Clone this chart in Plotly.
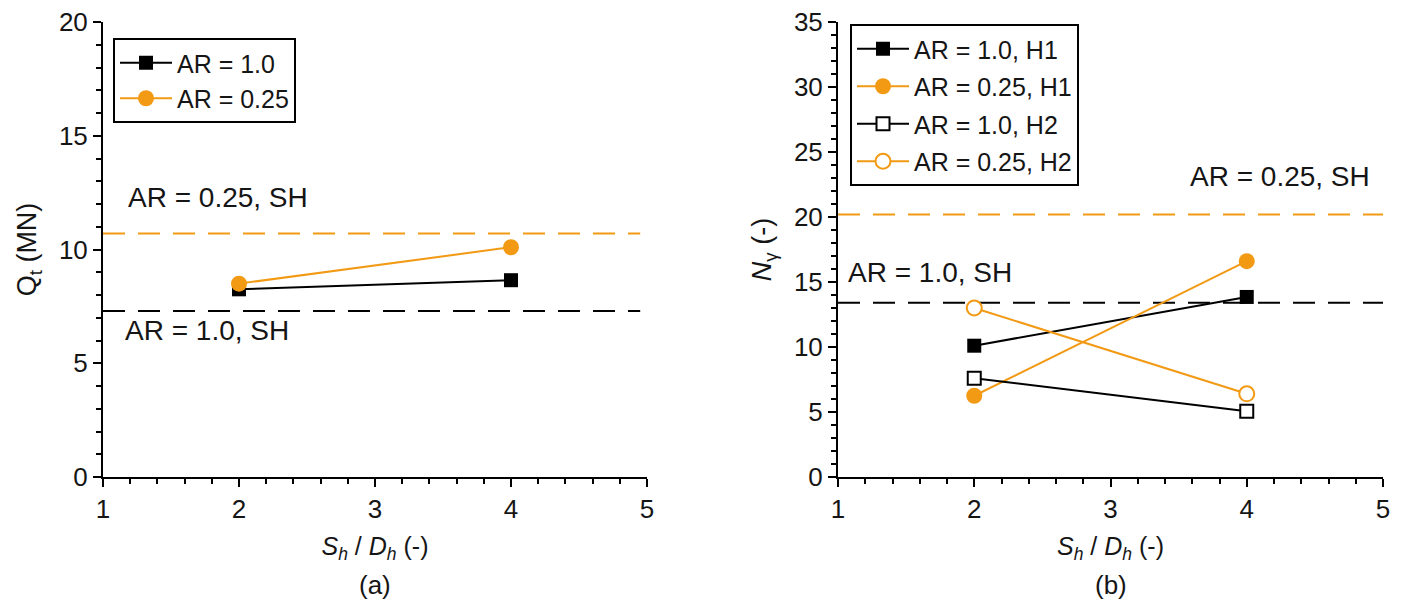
import plotly.graph_objects as go

# ---- data ----
x_ratio = [2, 4]
# panel (a): Qt (MN)
qt_ar100 = [8.25, 8.65]
qt_ar025 = [8.5, 10.1]
qt_sh_ar025 = 10.7
qt_sh_ar100 = 7.3
# panel (b): N_gamma (-)
ng_ar100_h1 = [10.1, 13.85]
ng_ar025_h1 = [6.25, 16.6]
ng_ar100_h2 = [7.6, 5.05]
ng_ar025_h2 = [13.0, 6.4]
ng_sh_ar025 = 20.2
ng_sh_ar100 = 13.4
sh_x_a = [1, 4.95]
sh_x_b = [1, 5]

ORANGE = "#F29A14"
BLACK = "#000000"
FONT = "Liberation Sans, Arial, sans-serif"
TXT = "#151515"

W, H = 1404, 609
ML, MR, MT, MB = 103, 21, 22, 132
PW = W - ML - MR

fig = go.Figure()

# reference lines (dashed)
dash = "22px,13px"
fig.add_trace(go.Scatter(x=sh_x_a, y=[qt_sh_ar025]*2, mode="lines", showlegend=False, hoverinfo="skip",
                         line=dict(color=ORANGE, width=2, dash=dash), xaxis="x", yaxis="y"))
fig.add_trace(go.Scatter(x=sh_x_a, y=[qt_sh_ar100]*2, mode="lines", showlegend=False, hoverinfo="skip",
                         line=dict(color=BLACK, width=2, dash=dash), xaxis="x", yaxis="y"))
fig.add_trace(go.Scatter(x=sh_x_b, y=[ng_sh_ar025]*2, mode="lines", showlegend=False, hoverinfo="skip",
                         line=dict(color=ORANGE, width=2, dash=dash), xaxis="x2", yaxis="y2"))
fig.add_trace(go.Scatter(x=sh_x_b, y=[ng_sh_ar100]*2, mode="lines", showlegend=False, hoverinfo="skip",
                         line=dict(color=BLACK, width=2, dash=dash), xaxis="x2", yaxis="y2"))

# panel (a)
fig.add_trace(go.Scatter(x=x_ratio, y=qt_ar100, mode="lines+markers", name="AR = 1.0",
                         line=dict(color=BLACK, width=2),
                         marker=dict(symbol="square", size=14, color=BLACK),
                         xaxis="x", yaxis="y", legend="legend", legendgroup="a1"))
fig.add_trace(go.Scatter(x=x_ratio, y=qt_ar025, mode="lines+markers", name="AR = 0.25",
                         line=dict(color=ORANGE, width=2),
                         marker=dict(symbol="circle", size=16, color=ORANGE),
                         xaxis="x", yaxis="y", legend="legend", legendgroup="a2"))

# panel (b)
fig.add_trace(go.Scatter(x=x_ratio, y=ng_ar100_h1, mode="lines+markers", name="AR = 1.0, H1",
                         line=dict(color=BLACK, width=2),
                         marker=dict(symbol="square", size=14, color=BLACK),
                         xaxis="x2", yaxis="y2", legend="legend2", legendgroup="b1"))
fig.add_trace(go.Scatter(x=x_ratio, y=ng_ar025_h1, mode="lines+markers", name="AR = 0.25, H1",
                         line=dict(color=ORANGE, width=2),
                         marker=dict(symbol="circle", size=16, color=ORANGE),
                         xaxis="x2", yaxis="y2", legend="legend2", legendgroup="b2"))
fig.add_trace(go.Scatter(x=x_ratio, y=ng_ar100_h2, mode="lines+markers", name="AR = 1.0, H2",
                         line=dict(color=BLACK, width=2),
                         marker=dict(symbol="square", size=13, color="white",
                                     line=dict(color=BLACK, width=2)),
                         xaxis="x2", yaxis="y2", legend="legend2", legendgroup="b3"))
fig.add_trace(go.Scatter(x=x_ratio, y=ng_ar025_h2, mode="lines+markers", name="AR = 0.25, H2",
                         line=dict(color=ORANGE, width=2),
                         marker=dict(symbol="circle", size=15, color="white",
                                     line=dict(color=ORANGE, width=2)),
                         xaxis="x2", yaxis="y2", legend="legend2", legendgroup="b4"))

axis_common = dict(showline=True, linewidth=2, linecolor=BLACK, showgrid=False, zeroline=False,
                   automargin=False,
                   ticks="outside", ticklen=8, tickwidth=2, tickcolor=BLACK,
                   tickfont=dict(size=26, color=TXT, family=FONT),
                   minor=dict(ticks="outside", ticklen=5, tickwidth=2, tickcolor=BLACK, showgrid=False))

xtitle = "<i>S<sub>h</sub></i> / <i>D<sub>h</sub></i> (-)"
fig.update_layout(
    width=W, height=H,
    margin=dict(l=ML, r=MR, t=MT, b=MB, autoexpand=False),
    paper_bgcolor="white", plot_bgcolor="white",
    font=dict(family=FONT, color=TXT, size=25),
    xaxis=dict(domain=[0, (647 - ML)/PW], range=[1, 5], dtick=1, anchor="y",
               title=dict(text=xtitle, standoff=14, font=dict(size=25)),
               **axis_common),
    yaxis=dict(domain=[0, 1], range=[0, 20], dtick=5, anchor="x",
               title=dict(text="Q<sub>t</sub> (MN)", standoff=14, font=dict(size=27)),
               **axis_common),
    xaxis2=dict(domain=[(838 - ML)/PW, 1], range=[1, 5], dtick=1, anchor="y2",
                title=dict(text=xtitle, standoff=14, font=dict(size=25)),
                **axis_common),
    yaxis2=dict(domain=[0, 1], range=[0, 35], dtick=5, anchor="x2",
                title=dict(text="<i>N</i><sub>γ</sub> (-)", standoff=14, font=dict(size=27)),
                **axis_common),
    legend=dict(x=(113 - ML)/PW, y=1 - (38 - MT)/(H - MT - MB), xanchor="left", yanchor="top",
                bgcolor="white", bordercolor=BLACK, borderwidth=2,
                font=dict(size=25, family=FONT, color=TXT), tracegroupgap=0,
                itemwidth=52),
    legend2=dict(x=(850 - ML)/PW, y=1 - (24 - MT)/(H - MT - MB), xanchor="left", yanchor="top",
                 bgcolor="white", bordercolor=BLACK, borderwidth=2,
                 font=dict(size=25, family=FONT, color=TXT), tracegroupgap=2,
                 itemwidth=52),
    showlegend=True,
)

ann_font = dict(size=28, family=FONT, color=TXT)
fig.add_annotation(x=1.17, y=12.3, xref="x", yref="y", text="AR = 0.25, SH",
                   showarrow=False, xanchor="left", yanchor="middle", font=ann_font)
fig.add_annotation(x=1.15, y=6.45, xref="x", yref="y", text="AR = 1.0, SH",
                   showarrow=False, xanchor="left", yanchor="middle", font=ann_font)
fig.add_annotation(x=3.57, y=23.1, xref="x2", yref="y2", text="AR = 0.25, SH",
                   showarrow=False, xanchor="left", yanchor="middle", font=ann_font)
fig.add_annotation(x=1.06, y=15.7, xref="x2", yref="y2", text="AR = 1.0, SH",
                   showarrow=False, xanchor="left", yanchor="middle", font=ann_font)
fig.add_annotation(x=3, y=-(585 - 477)/(H - MT - MB), xref="x", yref="paper", text="(a)",
                   showarrow=False, xanchor="center", yanchor="middle", font=dict(size=26))
fig.add_annotation(x=3, y=-(585 - 477)/(H - MT - MB), xref="x2", yref="paper", text="(b)",
                   showarrow=False, xanchor="center", yanchor="middle", font=dict(size=26))

fig.write_html("out.html")
